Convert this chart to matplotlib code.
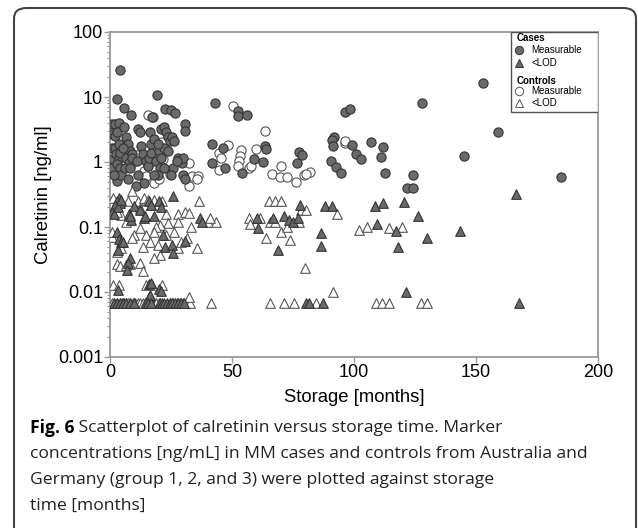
import matplotlib
matplotlib.use("Agg")
import matplotlib.pyplot as plt
from matplotlib.patches import FancyBboxPatch, Rectangle

# storage [months] / calretinin [ng/ml]
cases_meas_x = [4, 3, 5.9, 19.4, 8.7, 22.4, 25, 26.8, 17.4, 30.8, 30.8, 43, 52.5, 52.5, 56,
                63.5, 64, 59, 62.5, 47.3, 42, 41.8, 46.3, 54.3, 77.4, 78.6, 76.6, 91.6, 90.8,
                96.2, 98.5, 91.3, 99.3, 100.8, 103, 90.6, 92.6, 94.6, 107, 112, 111.2, 112.7,
                128, 153, 158.9, 145, 124, 121.7, 124, 185,
                0.8, 2, 3.5, 0.8, 2.2, 3, 0.8, 2.2, 3.8, 1.3, 2.3, 3.7, 4.3, 0.8, 2.7, 4.2, 3,
                4.7, 1.8, 5.7, 6.4, 7.2, 8, 5.5, 6.7, 7.7, 6, 7.4, 8.9, 9.2, 8.4,
                11.4, 12.2, 12.7, 13.4, 10.9, 11.4, 13.9, 10.5, 14.7, 15.6, 16, 16.7, 17,
                16.2, 18, 18.9, 20.6, 19.7, 18, 20,
                21, 22, 23, 23.7, 22.2, 24.7, 25.6, 26.4, 23.9, 26, 28, 29.4, 29.8, 30.1,
                30.6, 25, 27.3, 21, 22.2, 19.7]
cases_meas_y = [26, 9.4, 6.8, 10.9, 5.2, 6.6, 6.2, 5.6, 4.9, 3.8, 3.0, 8.1, 6.0, 5.1, 5.3,
                1.74, 1.58, 1.1, 0.99, 0.82, 1.88, 0.95, 1.62, 0.68, 1.43, 1.3, 0.95, 2.39, 2.17,
                5.85, 6.6, 1.74, 1.82, 1.35, 1.1, 1.03, 0.85, 0.67, 2.0, 1.69, 1.2, 0.68,
                8.2, 16.7, 2.9, 1.22, 0.62, 0.40, 0.40, 0.58,
                3.85, 3.85, 4.0, 2.69, 2.54, 2.86, 1.67, 1.67, 1.88, 1.1, 1.32, 1.17, 1.4, 0.82,
                0.92, 0.82, 0.51, 0.64, 0.64, 3.4, 2.39, 1.88, 1.48, 1.67, 1.17, 0.98, 0.82,
                0.54, 1.32, 1.17, 0.82,
                3.2, 2.86, 1.77, 1.32, 1.04, 0.64, 0.48, 0.42, 1.04, 0.87, 1.17, 1.4, 1.88,
                2.86, 2.25, 1.04, 0.82, 0.64, 0.64, 1.48,
                3.2, 3.4, 2.86, 2.39, 1.67, 2.12, 2.39, 2.12, 1.48, 0.82, 1.17, 0.98, 1.17,
                0.64, 0.54, 0.64, 1.04, 1.17, 0.82, 1.88]

ctrl_meas_x = [15.6, 17.7, 3.7, 21.4, 21.7, 19, 14, 14.9, 15.7, 18, 20, 24.4, 32.3, 32.3,
               33.8, 36, 35.5, 50.3, 48.3, 44.8, 45.5, 44.8, 53.7, 53.4, 52.8, 52.5, 56.9,
               57.7, 59.9, 63.7, 66.2, 69.9, 69.7, 72.4, 76.1, 79.6, 82, 80.3, 96.2, 96.4,
               9, 11, 20.5, 17.5]
ctrl_meas_y = [5.3, 4.95, 0.68, 2.0, 1.1, 1.2, 0.72, 0.61, 0.87, 0.48, 0.54, 0.65, 0.98, 0.42,
               0.6, 0.6, 0.54, 7.2, 1.8, 1.4, 1.15, 0.76, 1.55, 1.25, 1.04, 0.87, 0.82,
               0.87, 1.56, 3.0, 0.66, 0.87, 0.58, 0.58, 0.49, 0.64, 0.7, 0.65, 1.94, 2.1,
               0.95, 1.3, 1.5, 1.05]

cases_lod_x = [25.8, 166.4, 3.8, 3, 4.3, 2.2, 1, 1.8, 3.3, 4.7, 7.7, 8.5, 8.3, 9.7, 12.4,
               13.9, 14.4, 16, 16.7, 18, 20, 21, 21.7, 22.7, 25.6, 26, 30.6, 36.8, 37.5,
               3, 3.8, 4.7, 3.3, 5.5, 8, 7.2, 6.9, 3.3, 16, 17, 20, 21, 15.9, 16.4,
               1.8, 3, 4.3, 5.5, 6.7, 8, 9.7, 14.7, 15.7, 16.7, 20.6, 21.4, 22.2, 23.4,
               24.4, 25.6, 26.8, 28, 29.1, 30.4, 80.3, 81.6, 87.1, 167.7,
               60.2, 60.5, 66.6, 68.7, 71.5, 73.5, 74.9, 77.8, 77.1, 88, 91.1, 86.6, 86.3,
               108.5, 111.7, 109.5, 117.2, 117.9, 120.4, 126.3, 129.8, 143.5, 121.4]
cases_lod_y = [0.30, 0.32, 0.28, 0.25, 0.23, 0.22, 0.17, 0.16, 0.2, 0.26, 0.16, 0.13, 0.15,
               0.21, 0.185, 0.14, 0.15, 0.25, 0.22, 0.15, 0.25, 0.2, 0.075, 0.05, 0.053,
               0.04, 0.06, 0.14, 0.12,
               0.085, 0.065, 0.059, 0.045, 0.059, 0.033, 0.028, 0.022, 0.0109, 0.0134,
               0.014, 0.0113, 0.0105, 0.0085, 0.009,
               0.0068, 0.0068, 0.0068, 0.0068, 0.0068, 0.0068, 0.0068, 0.0068, 0.0068,
               0.0068, 0.0068, 0.0068, 0.0068, 0.0068, 0.0068, 0.0068, 0.0068, 0.0068,
               0.0068, 0.0068, 0.0068, 0.0068, 0.0068, 0.0068,
               0.14, 0.097, 0.14, 0.044, 0.15, 0.13, 0.12, 0.22, 0.14, 0.21, 0.21, 0.08,
               0.051, 0.21, 0.23, 0.11, 0.088, 0.049, 0.24, 0.15, 0.068, 0.088, 0.0101]

ctrl_lod_x = [1.3, 1, 0.7, 4.7, 3, 6.4, 7.4, 8.2, 8.9, 11.4, 12.2, 13.9, 15.6, 16.7, 18,
              21.4, 23, 23.9, 28, 30.6, 32.3, 33, 28, 26.4, 23, 20.6, 18.9, 18, 14.7, 12.2,
              9.7, 8.9, 3, 4.7, 16.4, 19.7, 20.6, 18, 13.4, 28, 28.9, 31.4, 35.5, 36.5, 40,
              43.5, 40.8,
              3, 4.3, 6.4, 8.4, 12.2, 13.4, 14.7, 17.2, 21.4, 1.3, 3.8,
              0.7, 1.8, 3, 4, 5, 5.7, 6.4, 7.4, 8.4, 9.4, 10.4, 11.4, 12.4, 13.4, 14.4,
              15.4, 17.7, 18.9, 20, 24.7, 26, 27.3, 28.6, 30, 31.3, 32.6, 41.2, 65.7, 71.5,
              75.6, 84.6, 108.9, 111.4, 114.2, 127.6, 130.1,
              32.4, 91.4,
              65.2, 67.7, 69.9, 56.9, 57.2, 61.5, 65.7, 67.5, 69.9, 72.4, 73.9, 64, 77.4,
              78.3, 80.3, 93.2, 102, 105.5, 114.5, 119.7, 79.9]
ctrl_lod_y = [0.28, 0.07, 0.085, 0.154, 0.173, 0.121, 0.25, 0.154, 0.36, 0.25, 0.195, 0.28,
              0.26, 0.22, 0.26, 0.248, 0.16, 0.115, 0.16, 0.17, 0.165, 0.1, 0.121, 0.085,
              0.075, 0.107, 0.1, 0.085, 0.075, 0.095, 0.075, 0.067, 0.041, 0.047, 0.059,
              0.052, 0.037, 0.033, 0.05, 0.047, 0.059, 0.067, 0.048, 0.25, 0.12, 0.12, 0.14,
              0.027, 0.025, 0.026, 0.027, 0.028, 0.021, 0.013, 0.013, 0.013, 0.013, 0.013,
              0.0068, 0.0068, 0.0068, 0.0068, 0.0068, 0.0068, 0.0068, 0.0068, 0.0068,
              0.0068, 0.0068, 0.0068, 0.0068, 0.0068, 0.0068, 0.0068, 0.0068, 0.0068,
              0.0068, 0.0068, 0.0068, 0.0068, 0.0068, 0.0068, 0.0068, 0.0068, 0.0068,
              0.0068, 0.0068, 0.0068, 0.0068, 0.0068, 0.0068, 0.0068, 0.0068, 0.0068,
              0.0085, 0.01,
              0.25, 0.25, 0.25, 0.14, 0.11, 0.14, 0.12, 0.12, 0.085, 0.1, 0.064, 0.068,
              0.12, 0.18, 0.18, 0.16, 0.09, 0.1, 0.095, 0.1, 0.0235]

yticks = [0.001, 0.01, 0.1, 1, 10, 100]
ytick_labels = ["0.001", "0.01", "0.1", "1", "10", "100"]
xticks = [0, 50, 100, 150, 200]

caption_bold = "Fig. 6"
caption_lines = [" Scatterplot of calretinin versus storage time. Marker",
                 "concentrations [ng/mL] in MM cases and controls from Australia and",
                 "Germany (group 1, 2, and 3) were plotted against storage",
                 "time [months]"]

plt.rcParams['font.family'] = ['Liberation Sans', 'DejaVu Sans']

case_col = "#6a6a6a"
case_edge = "#333333"
ctrl_edge = "#555555"

fig = plt.figure(figsize=(6.38, 5.28), dpi=100)
ax = fig.add_axes([110/638, 1 - 357/528, 488/638, 325/528])

ax.scatter(ctrl_meas_x, ctrl_meas_y, s=44, marker="o", facecolor="white", edgecolor=ctrl_edge, linewidth=0.8, zorder=3)
ax.scatter(cases_meas_x, cases_meas_y, s=44, marker="o", facecolor=case_col, edgecolor=case_edge, linewidth=0.8, zorder=3)
ax.scatter(ctrl_lod_x, ctrl_lod_y, s=48, marker="^", facecolor="white", edgecolor=ctrl_edge, linewidth=0.8, zorder=3)
ax.scatter(cases_lod_x, cases_lod_y, s=48, marker="^", facecolor=case_col, edgecolor=case_edge, linewidth=0.8, zorder=3)

ax.set_yscale("log")
ax.set_xlim(0, 200)
ax.set_ylim(0.001, 100)
ax.set_yticks(yticks)
ax.set_yticklabels(ytick_labels)
ax.set_xticks(xticks)
for s in ax.spines.values():
    s.set_color("#999999")
    s.set_linewidth(1.3)
ax.tick_params(axis="both", which="major", labelsize=13, length=4, width=1, color="#999999", pad=1)
ax.tick_params(axis="y", which="minor", length=2, width=0.8, color="#999999")
ax.set_xlabel("Storage [months]", fontsize=13.3, labelpad=6)
ax.set_ylabel("Calretinin [ng/ml]", fontsize=13.3, labelpad=4)

# legend drawn by hand, flush with top right corner
ax.add_patch(Rectangle((0.8217, 0.7538), 1 - 0.8217, 1 - 0.7538, transform=ax.transAxes,
                       facecolor="white", edgecolor="#555555", linewidth=1, zorder=5))
lx, tx = 0.838, 0.864
ax.text(0.8334, 0.9806, "Cases", transform=ax.transAxes, fontsize=7, fontweight="bold", va="center", zorder=6)
ax.plot([lx], [0.9446], "o", ms=6, mfc=case_col, mec=case_edge, mew=0.7, transform=ax.transAxes, zorder=6)
ax.text(tx, 0.9446, "Measurable", transform=ax.transAxes, fontsize=7, va="center", zorder=6)
ax.plot([lx], [0.9055], "^", ms=6, mfc=case_col, mec=case_edge, mew=0.7, transform=ax.transAxes, zorder=6)
ax.text(tx, 0.9055, "<LOD", transform=ax.transAxes, fontsize=7, va="center", zorder=6)
ax.text(0.8334, 0.8492, "Controls", transform=ax.transAxes, fontsize=7, fontweight="bold", va="center", zorder=6)
ax.plot([lx], [0.8185], "o", ms=6, mfc="white", mec=ctrl_edge, mew=0.7, transform=ax.transAxes, zorder=6)
ax.text(tx, 0.8185, "Measurable", transform=ax.transAxes, fontsize=7, va="center", zorder=6)
ax.plot([lx], [0.7825], "^", ms=6, mfc="white", mec=ctrl_edge, mew=0.7, transform=ax.transAxes, zorder=6)
ax.text(tx, 0.7825, "<LOD", transform=ax.transAxes, fontsize=7, va="center", zorder=6)

# caption
cap_font = ['Open Sans', 'DejaVu Sans']
cap_size = 12.6
ys = [428, 454, 480, 506]
r = fig.canvas.get_renderer()
t0 = fig.text(30/638, 1 - ys[0]/528, caption_bold, fontsize=cap_size, fontweight="bold", family=cap_font, va="center")
bb = t0.get_window_extent(renderer=r)
fig.text(bb.x1/638, 1 - ys[0]/528, caption_lines[0], fontsize=cap_size, family=cap_font, va="center", color="#222222")
for y, line in zip(ys[1:], caption_lines[1:]):
    fig.text(30/638, 1 - y/528, line, fontsize=cap_size, family=cap_font, va="center", color="#222222")

# outer rounded frame
fig.patches.append(FancyBboxPatch((14/638, -0.05), (636 - 14)/638, 1 - 8/528 + 0.05,
                                  boxstyle="round,pad=0,rounding_size=0.02", transform=fig.transFigure,
                                  facecolor="none", edgecolor="#444444", linewidth=1.5))

fig.savefig("out.png", dpi=100)
